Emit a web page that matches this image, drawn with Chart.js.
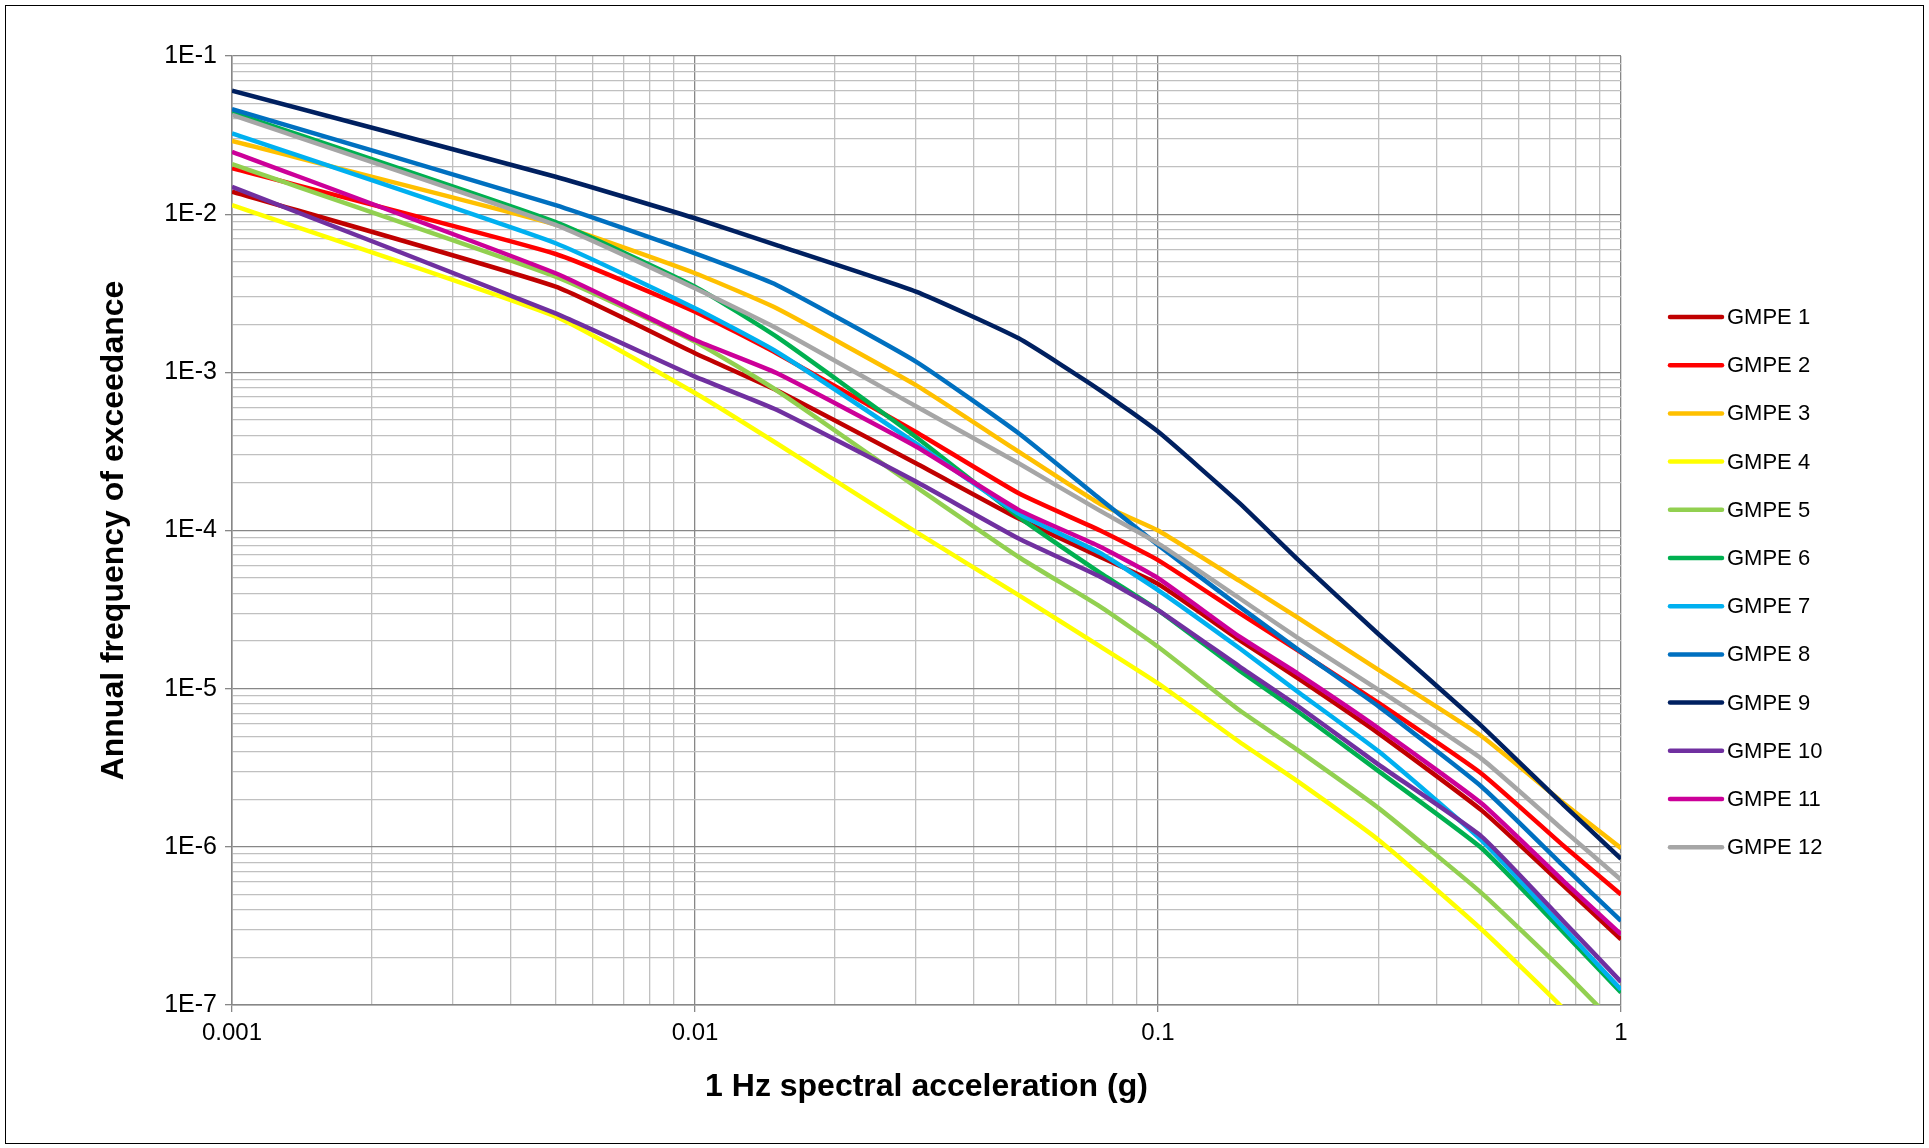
<!DOCTYPE html>
<html>
<head>
<meta charset="utf-8">
<title>Hazard curves - 1 Hz</title>
<script src="https://cdn.jsdelivr.net/npm/chart.js@4.4.1/dist/chart.umd.min.js"></script>
<style>
  html, body { margin: 0; padding: 0; background: #fff; }
  #wrap { position: relative; width: 1929px; height: 1148px; }
  #frame { position: absolute; left: 5px; top: 5px; right: 5px; bottom: 4px; border: 1.5px solid #000; pointer-events: none; }
</style>
</head>
<body>
<div id="wrap">
  <canvas id="hazardChart"></canvas>
  <div id="frame"></div>
</div>
<script>
// spectral acceleration (g) at which the curves were read
const accel = [0.001, 0.005, 0.01, 0.015, 0.03, 0.05, 0.075, 0.1, 0.15, 0.2, 0.3, 0.5, 0.75, 1];

const xTickLabels = ['0.001', '0.01', '0.1', '1'];
const yTickLabels = ['1E-7', '1E-6', '1E-5', '1E-4', '1E-3', '1E-2', '1E-1'];

const seriesNames = ['GMPE 1', 'GMPE 2', 'GMPE 3', 'GMPE 4', 'GMPE 5', 'GMPE 6',
                     'GMPE 7', 'GMPE 8', 'GMPE 9', 'GMPE 10', 'GMPE 11', 'GMPE 12'];
const seriesColors = ['#C00000', '#FF0000', '#FFC000', '#FFFF00', '#92D050', '#00B050',
                      '#00B0F0', '#0070C0', '#002060', '#7030A0', '#CC0099', '#A6A6A6'];

// annual frequency of exceedance, one array per GMPE
const gmpe1  = [0.0139, 0.00348, 0.00132, 0.00077, 0.000266, 0.000119, 6.8e-5, 4.6e-5, 2.03e-5, 1.17e-5, 5.2e-6, 1.7e-6, 5.7e-7, 2.6e-7];
const gmpe2  = [0.0195, 0.0056, 0.00242, 0.00132, 0.00042, 0.000172, 1.0e-4, 6.5e-5, 3.0e-5, 1.75e-5, 8.1e-6, 2.9e-6, 1.02e-6, 5.0e-7];
const gmpe3  = [0.029, 0.0086, 0.00423, 0.00254, 0.00083, 0.000315, 0.000147, 1.0e-4, 4.8e-5, 2.82e-5, 1.31e-5, 5.0e-6, 1.9e-6, 9.8e-7];
const gmpe4  = [0.0114, 0.00225, 0.00074, 0.000356, 9.8e-5, 3.9e-5, 1.85e-5, 1.08e-5, 4.6e-6, 2.6e-6, 1.1e-6, 3.0e-7, 9.5e-8, 3.5e-8];
const gmpe5  = [0.0207, 0.00403, 0.00156, 0.00077, 0.000189, 6.8e-5, 3.3e-5, 1.84e-5, 7.3e-6, 4.1e-6, 1.75e-6, 5.1e-7, 1.65e-7, 7.0e-8];
const gmpe6  = [0.044, 0.0089, 0.00348, 0.00168, 0.00039, 0.000122, 5.4e-5, 3.14e-5, 1.3e-5, 7.2e-6, 3.0e-6, 9.8e-7, 2.9e-7, 1.2e-7];
const gmpe7  = [0.0324, 0.00655, 0.00254, 0.00135, 0.000356, 0.000128, 7.2e-5, 4.2e-5, 1.8e-5, 9.6e-6, 4.0e-6, 1.1e-6, 3.1e-7, 1.25e-7];
const gmpe8  = [0.0462, 0.0114, 0.00565, 0.00357, 0.00117, 0.000412, 0.000158, 8.1e-5, 3.3e-5, 1.78e-5, 7.7e-6, 2.4e-6, 7.6e-7, 3.4e-7];
const gmpe9  = [0.0604, 0.01725, 0.00942, 0.00638, 0.00324, 0.00164, 0.00077, 0.000422, 0.000149, 6.6e-5, 2.2e-5, 5.8e-6, 1.85e-6, 8.4e-7];
const gmpe10 = [0.0149, 0.00236, 0.00094, 0.00058, 0.000204, 8.9e-5, 5.1e-5, 3.14e-5, 1.38e-5, 7.8e-6, 3.3e-6, 1.16e-6, 3.4e-7, 1.4e-7];
const gmpe11 = [0.0248, 0.00423, 0.0016, 0.00099, 0.00034, 0.000135, 7.9e-5, 5.0e-5, 2.13e-5, 1.25e-5, 5.6e-6, 1.88e-6, 6.1e-7, 2.8e-7];
const gmpe12 = [0.0424, 0.00855, 0.0034, 0.0019, 0.00061, 0.000266, 0.000133, 8.3e-5, 3.73e-5, 2.1e-5, 9.8e-6, 3.6e-6, 1.28e-6, 6.2e-7];

const allSeries = [gmpe1, gmpe2, gmpe3, gmpe4, gmpe5, gmpe6, gmpe7, gmpe8, gmpe9, gmpe10, gmpe11, gmpe12];

const FONT = '"Liberation Sans", Arial, sans-serif';
const MAJOR_GRID = '#878787';
const MINOR_GRID = '#C0C0C0';

/* =============================
   HELPERS
============================= */
function isDecade(v) {
    const l = Math.log10(v);
    return Math.abs(l - Math.round(l)) < 1e-9;
}

// 1..9 x 10^n between the first and last decade label
function logGridValues(labels) {
    const decades = labels.map(parseFloat);
    const out = [];
    for (let i = 0; i < decades.length; i++) {
        const top = i === decades.length - 1 ? 1 : 9;
        for (let k = 1; k <= top; k++) out.push(+(decades[i] * k).toPrecision(3));
    }
    return out;
}

function labelFor(labels) {
    return value => {
        if (!isDecade(value)) return '';
        const hit = labels.find(l => Math.abs(Math.log10(parseFloat(l)) - Math.log10(value)) < 1e-9);
        return hit || '';
    };
}

function gridColor(ctx) {
    return ctx.tick && isDecade(ctx.tick.value) ? MAJOR_GRID : MINOR_GRID;
}

function tickMarkColor(ctx) {
    return ctx.tick && isDecade(ctx.tick.value) ? MAJOR_GRID : 'rgba(0,0,0,0)';
}

/* =============================
   LEGEND (drawn at the right, Excel style)
============================= */
const sideLegend = {
    id: 'sideLegend',
    afterDraw(chart) {
        const { ctx } = chart;
        const x0 = 1670, x1 = 1722, top = 317, step = 48.2;
        ctx.save();
        ctx.font = '22px ' + FONT;
        ctx.textBaseline = 'middle';
        ctx.textAlign = 'left';
        chart.data.datasets.forEach((ds, i) => {
            const y = top + i * step;
            ctx.strokeStyle = ds.borderColor;
            ctx.lineWidth = 4.5;
            ctx.lineCap = 'round';
            ctx.beginPath();
            ctx.moveTo(x0, y);
            ctx.lineTo(x1, y);
            ctx.stroke();
            ctx.fillStyle = '#000';
            ctx.fillText(ds.label, x1 + 5, y + 1);
        });
        ctx.restore();
    }
};

/* =============================
   CHART
============================= */
Chart.defaults.font.family = FONT;
Chart.defaults.color = '#000';

const datasets = allSeries.map((vals, i) => ({
    label: seriesNames[i],
    data: accel.map((x, j) => ({ x, y: vals[j] })),
    borderColor: seriesColors[i],
    backgroundColor: seriesColors[i],
    borderWidth: 4.5,
    pointRadius: 0,
    tension: 0.15,
    fill: false,
    clip: 0,
    order: allSeries.length - i   // later series on top, like Excel
}));

new Chart(document.getElementById('hazardChart'), {
    type: 'line',
    data: { datasets },
    plugins: [sideLegend],
    options: {
        responsive: true,
        maintainAspectRatio: false,
        animation: false,
        layout: { padding: { left: 0, top: 56, right: 308, bottom: 0 } },
        plugins: {
            legend: { display: false },
            tooltip: { enabled: false }
        },
        scales: {
            x: {
                type: 'logarithmic',
                min: 0.001,
                max: 1,
                afterBuildTicks: axis => { axis.ticks = logGridValues(xTickLabels).map(value => ({ value })); },
                afterFit: axis => { axis.height = 143; },
                ticks: {
                    autoSkip: false,
                    maxRotation: 0,
                    padding: 7,
                    font: { size: 24 },
                    callback: labelFor(xTickLabels)
                },
                grid: { color: gridColor, tickColor: tickMarkColor, tickLength: 7, lineWidth: 1.3 },
                border: { color: MAJOR_GRID, width: 1.5 },
                title: {
                    display: true,
                    text: '1 Hz spectral acceleration (g)',
                    font: { size: 32, weight: 'bold' },
                    padding: { top: 4, bottom: 42 }
                }
            },
            y: {
                type: 'logarithmic',
                min: 1e-7,
                max: 0.1,
                afterBuildTicks: axis => { axis.ticks = logGridValues(yTickLabels).map(value => ({ value })); },
                afterFit: axis => { axis.width = 232; },
                ticks: {
                    autoSkip: false,
                    padding: 8,
                    font: { size: 25 },
                    callback: labelFor(yTickLabels)
                },
                grid: { color: gridColor, tickColor: tickMarkColor, tickLength: 7, lineWidth: 1.3 },
                border: { color: MAJOR_GRID, width: 1.5 },
                title: {
                    display: true,
                    text: 'Annual frequency of exceedance',
                    font: { size: 32, weight: 'bold' },
                    padding: { top: 95, bottom: 4 }
                }
            }
        }
    }
});
</script>
</body>
</html>
